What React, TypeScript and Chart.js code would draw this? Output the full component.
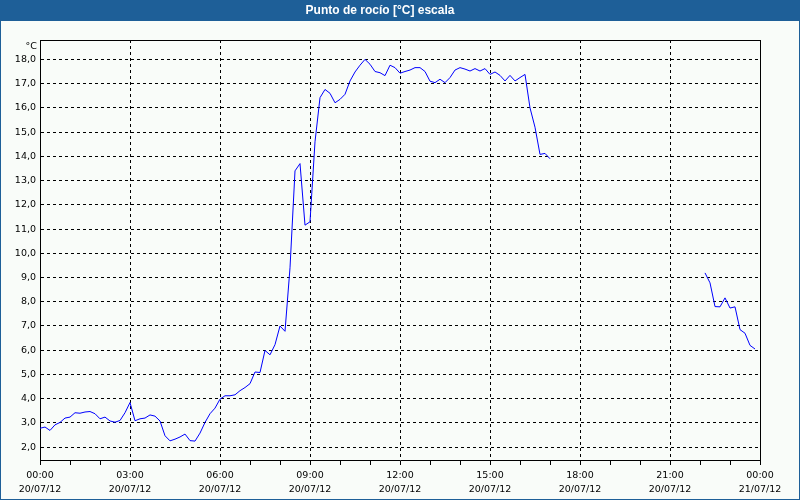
import React, { useEffect, useRef } from "react";
import { Chart, registerables } from "chart.js";

Chart.register(...registerables);

const TITLE = "Punto de rocío [°C] escala";
const UNIT = "°C";
const hourLabels = ["00:00", "03:00", "06:00", "09:00", "12:00", "15:00", "18:00", "21:00", "00:00"];
const dateLabels = ["20/07/12", "20/07/12", "20/07/12", "20/07/12", "20/07/12", "20/07/12", "20/07/12", "20/07/12", "21/07/12"];
const yTicks = [2, 3, 4, 5, 6, 7, 8, 9, 10, 11, 12, 13, 14, 15, 16, 17, 18];
const sampleMinutes = 10;

// dew point, one value every 10 minutes from 00:00 (null = no data)
const dewPoint: (number | null)[] = [
  2.78, 2.83, 2.69, 2.92, 3.02, 3.2, 3.24, 3.42, 3.4, 3.45,
  3.47, 3.38, 3.17, 3.24, 3.08, 3.03, 3.1, 3.42, 3.84, 3.09,
  3.17, 3.2, 3.33, 3.28, 3.08, 2.47, 2.26, 2.33, 2.42, 2.54,
  2.27, 2.25, 2.58, 3.02, 3.38, 3.61, 3.98, 4.12, 4.12, 4.16,
  4.33, 4.46, 4.62, 5.1, 5.08, 5.99, 5.81, 6.23, 7.0, 6.78,
  9.4, 13.4, 13.7, 11.16, 11.3, 14.6, 16.42, 16.76, 16.6, 16.21,
  16.35, 16.56, 17.11, 17.48, 17.76, 18.0, 17.8, 17.5, 17.45, 17.33,
  17.76, 17.66, 17.43, 17.5, 17.56, 17.66, 17.66, 17.5, 17.1, 17.04,
  17.18, 17.04, 17.25, 17.56, 17.66, 17.6, 17.52, 17.62, 17.52, 17.62,
  17.38, 17.48, 17.34, 17.11, 17.34, 17.11, 17.25, 17.38, 16.0, 15.2,
  14.08, 14.12, 13.9,
  null, null, null, null, null, null, null, null, null, null,
  null, null, null, null, null, null, null, null, null, null,
  null, null, null, null, null, null, null, null, null, null,
  9.19, 8.78, 7.8, 7.79, 8.16, 7.74, 7.79, 6.85, 6.7, 6.2, 6.05,
];

const BLUE = "#1E5F98";
const BG = "#F9FCF9";
const TICK_FONT = { family: '"DejaVu Sans", sans-serif', size: 9.5, lineHeight: 1.42 };

export default function App() {
  const ref = useRef<HTMLCanvasElement>(null);

  useEffect(() => {
    const canvas = ref.current;
    if (!canvas) return;
    const points = dewPoint.map((v, i) => ({ x: (i * sampleMinutes) / 60, y: v }));

    const framePlugin = {
      id: "frame",
      beforeDraw(chart: any) {
        const { ctx, width, height } = chart;
        ctx.save();
        ctx.fillStyle = BG;
        ctx.fillRect(0, 0, width, height);
        ctx.fillStyle = BLUE;
        ctx.fillRect(0, 0, width, 21);
        ctx.fillRect(0, 0, 1, height);
        ctx.fillRect(width - 1, 0, 1, height);
        ctx.fillRect(0, height - 1, width, 1);
        ctx.restore();
      },
      afterDraw(chart: any) {
        const { ctx, chartArea: a } = chart;
        ctx.save();
        ctx.strokeStyle = "#000";
        ctx.lineWidth = 1;
        ctx.setLineDash([]);
        const l = Math.round(a.left) + 0.5;
        const r = Math.round(a.right) + 0.5;
        const t = Math.round(a.top) + 0.5;
        ctx.beginPath();
        ctx.moveTo(l, t);
        ctx.lineTo(r, t);
        ctx.lineTo(r, Math.round(a.bottom) + 0.5);
        ctx.stroke();
        ctx.fillStyle = "#000";
        ctx.font = '9.5px "DejaVu Sans", sans-serif';
        ctx.textAlign = "right";
        ctx.textBaseline = "middle";
        ctx.fillText(UNIT, a.left - 3, a.top + 7);
        ctx.restore();
      },
    };

    const chart = new Chart(canvas, {
      type: "line",
      data: {
        datasets: [
          {
            data: points as any,
            borderColor: "#0000FF",
            borderWidth: 1,
            pointRadius: 0,
            tension: 0,
            spanGaps: false,
            fill: false,
          },
        ],
      },
      options: {
        animation: false,
        responsive: false,
        devicePixelRatio: 1,
        events: [],
        layout: { padding: { left: 0, right: 40, top: 0, bottom: 0 } },
        plugins: {
          legend: { display: false },
          tooltip: { enabled: false },
          title: {
            display: true,
            text: TITLE,
            color: "#FFFFFF",
            font: { family: '"Liberation Sans", Arial, sans-serif', size: 12, weight: "bold", lineHeight: 1.2 },
            padding: { top: 3.5, bottom: 22.1 },
          },
        },
        scales: {
          x: {
            type: "linear",
            min: 0,
            max: 24,
            afterFit: (s: any) => {
              s.height = 40;
            },
            ticks: {
              stepSize: 1,
              autoSkip: false,
              maxRotation: 0,
              minRotation: 0,
              padding: 4,
              color: "#000",
              font: TICK_FONT,
              callback: (value: any) => {
                const v = Number(value);
                return v % 3 === 0 ? [hourLabels[v / 3], dateLabels[v / 3]] : "";
              },
            },
            grid: {
              color: (ctx: any) => (ctx.tick && ctx.tick.value % 3 === 0 ? "#000" : "rgba(0,0,0,0)"),
              lineWidth: 1,
              tickColor: "#000",
              tickLength: 5,
              tickBorderDash: [],
            },
            border: { display: true, color: "#000", width: 1, dash: [3, 3] },
          },
          y: {
            type: "linear",
            min: 1.47,
            max: 18.8,
            afterFit: (s: any) => {
              s.width = 40;
            },
            afterBuildTicks: (s: any) => {
              s.ticks = yTicks.map((v) => ({ value: v }));
            },
            ticks: {
              padding: 4,
              color: "#000",
              font: TICK_FONT,
              callback: (value: any) => Number(value).toFixed(1).replace(".", ","),
            },
            grid: {
              color: "#000",
              lineWidth: 1,
              drawTicks: false,
            },
            border: { display: true, color: "#000", width: 1, dash: [3, 3] },
          },
        },
      },
      plugins: [framePlugin],
    });

    return () => chart.destroy();
  }, []);

  return (
    <div style={{ position: "absolute", left: 0, top: 0, width: 800, height: 500 }}>
      <canvas ref={ref} width={800} height={500} style={{ display: "block", width: 800, height: 500 }} />
    </div>
  );
}
